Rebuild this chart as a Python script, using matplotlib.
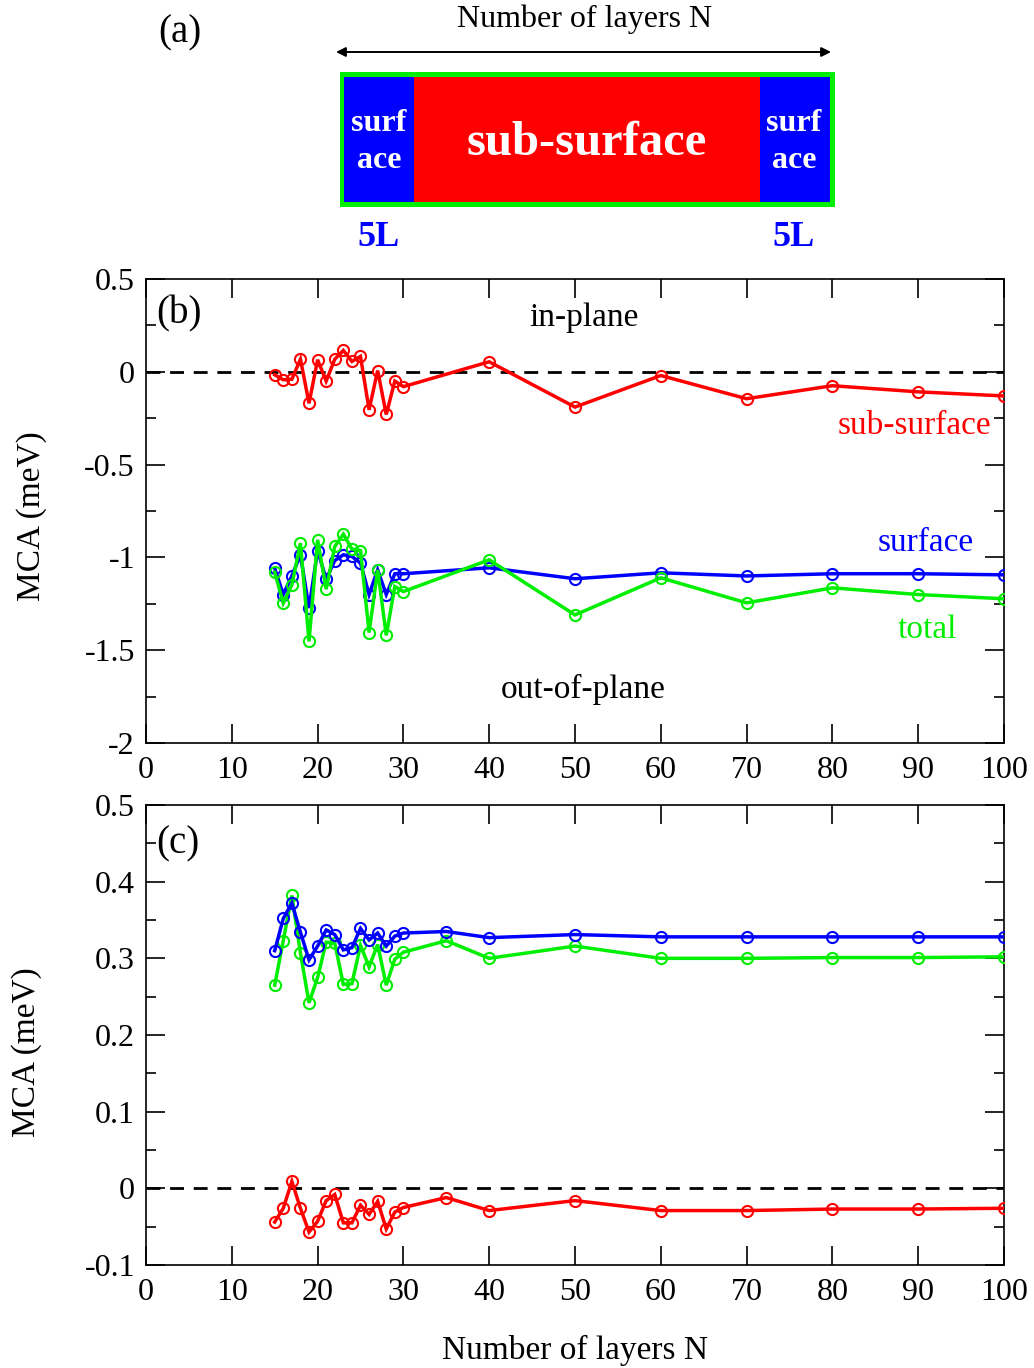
import matplotlib
matplotlib.use("Agg")
import matplotlib.pyplot as plt
from matplotlib.patches import Rectangle
from matplotlib.ticker import MultipleLocator, FormatStrFormatter

plt.rcParams["font.family"] = ["Liberation Serif", "DejaVu Serif"]
plt.rcParams["axes.unicode_minus"] = False

RED = "#ff0000"
BLUE = "#0000ff"
GREEN = "#00ee00"

# panel (b): in-plane / out-of-plane MCA
n_b = [15, 16, 17, 18, 19, 20, 21, 22, 23, 24, 25, 26, 27, 28, 29, 30,
       40, 50, 60, 70, 80, 90, 100]
sub_b = [-0.016, -0.043, -0.04, 0.068, -0.17, 0.065, -0.05, 0.068, 0.115, 0.056,
         0.083, -0.205, 0.007, -0.23, -0.05, -0.08,
         0.054, -0.19, -0.02, -0.145, -0.075, -0.108, -0.13]
surf_b = [-1.058, -1.2, -1.10, -0.986, -1.273, -0.963, -1.117, -1.017, -0.986, -0.995,
          -1.031, -1.2, -1.067, -1.2, -1.088, -1.088,
          -1.056, -1.115, -1.083, -1.1, -1.088, -1.088, -1.094]
total_b = [-1.08, -1.246, -1.148, -0.923, -1.453, -0.905, -1.171, -0.941, -0.875, -0.955,
           -0.963, -1.405, -1.067, -1.42, -1.157, -1.184,
           -1.013, -1.31, -1.11, -1.245, -1.164, -1.2, -1.223]

# panel (c)
n_c = [15, 16, 17, 18, 19, 20, 21, 22, 23, 24, 25, 26, 27, 28, 29, 30,
       35, 40, 50, 60, 70, 80, 90, 100]
surf_c = [0.310, 0.352, 0.372, 0.334, 0.298, 0.316, 0.337, 0.331, 0.311, 0.314,
          0.339, 0.324, 0.333, 0.316, 0.329, 0.333,
          0.335, 0.327, 0.331, 0.328, 0.328, 0.328, 0.328, 0.328]
total_c = [0.265, 0.323, 0.382, 0.307, 0.242, 0.275, 0.321, 0.320, 0.266, 0.267,
           0.317, 0.289, 0.318, 0.265, 0.299, 0.308,
           0.323, 0.300, 0.316, 0.300, 0.300, 0.301, 0.301, 0.302]
sub_c = [-0.044, -0.026, 0.009, -0.026, -0.057, -0.043, -0.016, -0.008, -0.045, -0.045,
         -0.022, -0.034, -0.017, -0.053, -0.031, -0.025,
         -0.012, -0.029, -0.016, -0.029, -0.029, -0.027, -0.027, -0.026]

W, H = 1034, 1368
fig = plt.figure(figsize=(W / 100, H / 100), dpi=100)


def series(ax, x, y, color, z):
    ax.plot(x, y, color=color, lw=2.5, marker="o", ms=8, mfc="none", mew=1.5,
            solid_joinstyle="miter", zorder=z)


def style(ax, ymin, ymax, major, minor):
    ax.set_xlim(0, 100)
    ax.set_ylim(ymin, ymax)
    ax.axhline(0, color="black", lw=2, ls=(0, (5, 3.5)), zorder=1)
    ax.xaxis.set_major_locator(MultipleLocator(10))
    ax.yaxis.set_major_locator(MultipleLocator(major))
    ax.yaxis.set_minor_locator(MultipleLocator(minor))
    ax.yaxis.set_major_formatter(FormatStrFormatter("%g"))
    ax.tick_params(which="both", direction="in", top=True, right=True,
                   labelsize=23, width=1.2)
    ax.tick_params(which="major", length=14, pad=8)
    ax.tick_params(which="minor", length=7)
    ax.tick_params(axis="x", pad=9)
    for s in ax.spines.values():
        s.set_linewidth(1.2)


# (a) schematic, drawn in pixel units
axa = fig.add_axes([0, 1 - 262 / H, 1, 262 / H])
axa.set_xlim(0, W)
axa.set_ylim(262, 0)
axa.axis("off")
axa.add_patch(Rectangle((340, 72), 495, 135, facecolor=GREEN, edgecolor="none"))
axa.add_patch(Rectangle((344, 77), 70, 125, facecolor=BLUE, edgecolor="none"))
axa.add_patch(Rectangle((414, 77), 346, 125, facecolor=RED, edgecolor="none"))
axa.add_patch(Rectangle((760, 77), 70, 125, facecolor=BLUE, edgecolor="none"))
for cx in (379, 794):
    axa.text(cx, 142, "surf\nace", color="white", fontsize=23, fontweight="bold",
             ha="center", va="center", linespacing=1.4)
    axa.text(cx, 238, "5L", color=BLUE, fontsize=26, fontweight="bold",
             ha="center", va="center")
axa.text(587, 143, "sub-surface", color="white", fontsize=35, fontweight="bold",
         ha="center", va="center")
axa.annotate("", xy=(831, 52), xytext=(336, 52),
             arrowprops=dict(arrowstyle="<|-|>", color="black", lw=1.4,
                             mutation_scale=14, shrinkA=0, shrinkB=0))
axa.text(585, 19, "Number of layers N", fontsize=23, ha="center", va="center")
axa.text(180, 33, "(a)", fontsize=28, ha="center", va="center")

# (b)
axb = fig.add_axes([146 / W, 1 - 743 / H, 858 / W, 464 / H])
style(axb, -2, 0.5, 0.5, 0.25)
series(axb, n_b, sub_b, RED, 3)
series(axb, n_b, surf_b, BLUE, 3)
series(axb, n_b, total_b, GREEN, 4)
axb.text(0.012, 0.925, "(b)", transform=axb.transAxes, fontsize=28, va="center")
axb.text(51, 0.29, "in-plane", fontsize=24, ha="center", va="center")
axb.text(51, -1.71, "out-of-plane", fontsize=24, ha="center", va="center")
axb.text(98.5, -0.29, "sub-surface", fontsize=24, color=RED, ha="right", va="center")
axb.text(96.5, -0.92, "surface", fontsize=24, color=BLUE, ha="right", va="center")
axb.text(94.5, -1.39, "total", fontsize=24, color=GREEN, ha="right", va="center")
axb.set_ylabel("MCA (meV)", fontsize=24, va="center")
axb.yaxis.set_label_coords(-0.133, 0.49)

# (c)
axc = fig.add_axes([146 / W, 1 - 1265 / H, 858 / W, 460 / H])
style(axc, -0.1, 0.5, 0.1, 0.05)
series(axc, n_c, sub_c, RED, 3)
series(axc, n_c, total_c, GREEN, 3)
series(axc, n_c, surf_c, BLUE, 4)
axc.text(0.012, 0.915, "(c)", transform=axc.transAxes, fontsize=28, va="center")
axc.set_ylabel("MCA (meV)", fontsize=24, va="center")
axc.yaxis.set_label_coords(-0.139, 0.463)
axc.set_xlabel("Number of layers N", fontsize=24, va="center")
axc.xaxis.set_label_coords(0.5, -0.185)

fig.savefig("out.png", dpi=100)
